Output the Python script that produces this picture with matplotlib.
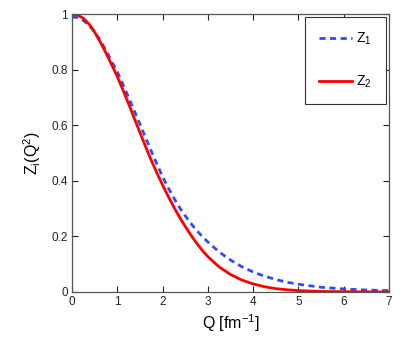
import matplotlib
matplotlib.use("Agg")
import matplotlib.pyplot as plt

plt.rcParams['font.family'] = ['Liberation Sans', 'DejaVu Sans']

Q = [0, 0.125, 0.25, 0.375, 0.5, 0.625, 0.75, 0.875, 1.0, 1.125, 1.25, 1.375,
     1.5, 1.625, 1.75, 1.875, 2.0, 2.125, 2.25, 2.375, 2.5, 2.625, 2.75, 2.875,
     3.0, 3.25, 3.5, 3.75, 4.0, 4.25, 4.5, 4.75, 5.0, 5.5, 6.0, 6.5, 7.0]
Z1 = [0.990, 0.987, 0.977, 0.960, 0.936, 0.905, 0.869, 0.830, 0.792, 0.747,
      0.700, 0.652, 0.604, 0.555, 0.507, 0.460, 0.415, 0.375, 0.338, 0.304,
      0.274, 0.247, 0.222, 0.200, 0.180, 0.144, 0.115, 0.091, 0.072, 0.057,
      0.045, 0.035, 0.028, 0.017, 0.011, 0.007, 0.005]
Z2 = [1.000, 0.996, 0.985, 0.964, 0.935, 0.899, 0.860, 0.818, 0.775, 0.727,
      0.677, 0.625, 0.574, 0.523, 0.474, 0.428, 0.385, 0.344, 0.305, 0.269,
      0.236, 0.205, 0.176, 0.150, 0.127, 0.090, 0.063, 0.043, 0.029, 0.019,
      0.012, 0.008, 0.005, 0.002, 0.001, 0.0005, 0.0002]
xticks = [0, 1, 2, 3, 4, 5, 6, 7]
yticks = [0, 0.2, 0.4, 0.6, 0.8, 1]
yticklabels = ['0', '0.2', '0.4', '0.6', '0.8', '1']

fig = plt.figure(figsize=(4.09, 3.43), dpi=100)
ax = fig.add_axes([0.176, 0.1487, 0.775, 0.8103])

ax.plot(Q, Z1, linestyle=(0, (2.2, 1.6)), color='#2e4cff', lw=2.0, label=r'Z$_\mathregular{1}$')
ax.plot(Q, Z2, '-', color='#ff0000', lw=2.0, label=r'Z$_\mathregular{2}$')

ax.set_xlim(0, 7)
ax.set_ylim(0, 1)
ax.set_xticks(xticks)
ax.set_yticks(yticks)
ax.set_yticklabels(yticklabels)
ax.tick_params(direction='in', top=True, right=True, length=4, width=0.8,
               labelsize=8.5, colors='#222222', pad=3)
for s in ax.spines.values():
    s.set_color('#555555')
    s.set_linewidth(0.9)

ax.set_xlabel(r'Q [fm$^\mathregular{-1}$]', fontsize=11.5, labelpad=3)
ax.set_ylabel(r'Z$_\mathregular{i}$(Q$^\mathregular{2}$)', fontsize=11.5, labelpad=6)

leg = ax.legend(loc='upper right', bbox_to_anchor=(0.99, 0.989), fontsize=10,
                handlelength=2.4, labelspacing=1.9, borderpad=1.0,
                handletextpad=0.3, fancybox=False, framealpha=1,
                edgecolor='#333333', borderaxespad=0)
leg.get_frame().set_linewidth(0.8)

fig.savefig('out.png', dpi=100)
